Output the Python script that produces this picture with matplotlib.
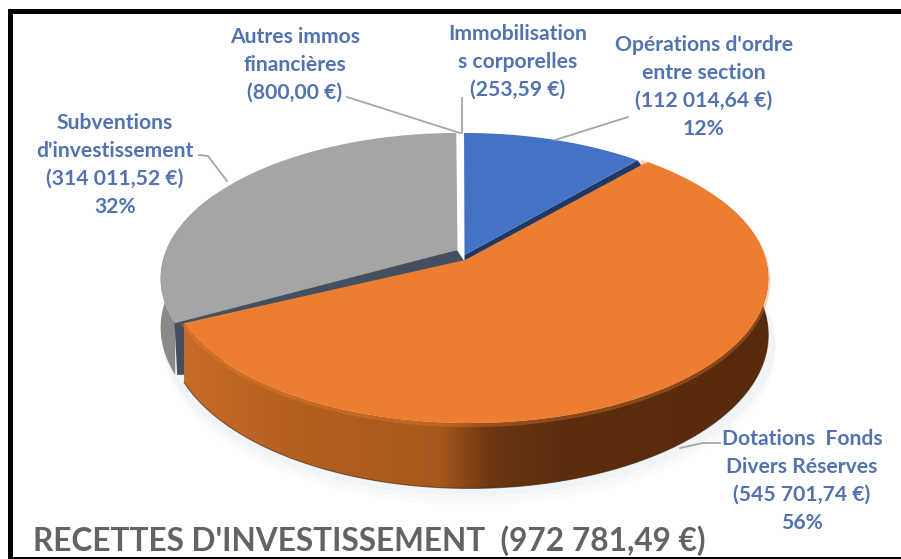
import numpy as np
import matplotlib
matplotlib.use('Agg')
import matplotlib.pyplot as plt
from matplotlib.patches import Polygon

# valeurs du graphique
noms = ['Opérations', 'Dotations', 'Subventions', 'Autres immos', 'Immobilisations']
valeurs = [112014.64, 545701.74, 314011.52, 800.00, 253.59]

titre = "RECETTES D'INVESTISSEMENT  (972 781,49 €)"
etiquettes = ["Opérations d'ordre\nentre section\n(112 014,64 €)\n12%",
              "Dotations  Fonds\nDivers Réserves\n(545 701,74 €)\n56%",
              "Subventions\nd'investissement\n(314 011,52 €)\n32%",
              "Autres immos\nfinancières\n(800,00 €)",
              "Immobilisation\ns corporelles\n(253,59 €)"]
etiq_pos = [(704, 87), (802, 481), (115, 165), (295, 65), (518, 62)]

# traits de rappel
rappels = [[(628, 117), (555, 140)],
           [(720, 443), (703, 443), (680, 448)],
           [(199, 155), (208, 156), (227, 181)],
           [(347, 97), (460, 133)],
           [(461.5, 98), (461.5, 133)]]

# perspective du camembert
CX, CY = 461, 255
B, A, P, EP = 293, 141.4, 0.1586, 55


def proj(x, y, z=0):
    w = 1 + P * y
    return CX + B * x / w, CY - A * y / w + z / w


fig = plt.figure(figsize=(9.01, 5.59), dpi=100)
ax = fig.add_axes([0, 0, 1, 1])

# angles depuis le haut, sens horaire
fin = np.cumsum(valeurs) / np.sum(valeurs) * 2 * np.pi
deb = np.concatenate([[0], fin[:-1]])


def arc(i, ox=0.0, oy=0.0, z=0, n=200, sx=1.0):
    t = np.linspace(deb[i], fin[i], n)
    return proj(np.sin(t) * sx + ox, np.cos(t) + oy, z)


# ombre
for k, al in [(14, 0.04), (10, 0.05), (6, 0.06)]:
    t = np.linspace(1.3, 4.6, 200)
    ox_s, oy_s = proj(np.sin(t) * 1.03 + 0.03, np.cos(t), EP + k)
    ax.fill(ox_s, oy_s, color='#9fb4c8', alpha=al, lw=0, zorder=1)

# subventions : cote, paroi, dessus
gx, gy = arc(2, ox=-0.012)
gx2, gy2 = arc(2, ox=-0.012, z=48)
m = gx < 215
ax.fill(np.r_[gx[m], gx2[m][::-1]], np.r_[gy[m], gy2[m][::-1]], color='#8a8a8a', lw=0, zorder=2)
ax.fill([457, gx[0] - 1, gx2[0] + 2, gx2[0] + 10, 470], [250, gy[0] - 6, gy2[0], gy2[0], 270],
        color='#44505f', lw=0, zorder=3)
ax.fill(np.r_[457.5, gx], np.r_[250, gy], color='#a5a5a5', lw=0, zorder=4)

# operations : paroi et dessus
bx, by = arc(0, ox=0.012)
ap_x, ap_y = proj(0.012, 0)
ax.fill([ap_x, bx[-1], bx[-1] + 6, ap_x], [ap_y, by[-1], by[-1] + 8, ap_y + 8], color='#1f3864', lw=0, zorder=3)
ax.fill(np.r_[ap_x, bx], np.r_[ap_y, by], color='#4472c4', lw=0, zorder=4)

# dotations : cote avec degrade, dessus
ox_d, sx_d = 0.025, 1.01
dx, dy = arc(1, ox=ox_d, n=400, sx=sx_d)
dx2, dy2 = arc(1, ox=ox_d, z=EP, n=400, sx=sx_d)
xp = [180, 300, 440, 490, 560, 780]
rouge = [0xc8, 0xb4, 0xa6, 0x6b, 0x5c, 0x58]
vert = [0x6c, 0x60, 0x58, 0x36, 0x2e, 0x2a]
bleu = [0x28, 0x20, 0x1c, 0x12, 0x0e, 0x0c]
xs = np.linspace(170, 790, 620)
grad = np.dstack([np.interp(xs, xp, rouge), np.interp(xs, xp, vert), np.interp(xs, xp, bleu)]) / 255
im = ax.imshow(grad, extent=[170, 790, 500, 200], aspect='auto', interpolation='bilinear', zorder=5)
im.set_clip_path(Polygon(np.c_[np.r_[dx, dx2[::-1]], np.r_[dy, dy2[::-1]]], transform=ax.transData))
ax.plot(dx2, dy2, color='#3d2008', lw=0.8, alpha=0.6, zorder=5)
ax.plot(dx, dy + 2, color='#ed7d31', lw=3, alpha=0.35, zorder=6)
# le bord haut descend un peu pour laisser voir la paroi bleue
ax.fill(np.r_[465, dx[0], dx[3:]], np.r_[260, dy[0] + 4, dy[3:]], color='#ed7d31', lw=0, zorder=7)

ax.set_xlim(0, 901)
ax.set_ylim(559, 0)
ax.axis('off')

# rappels
for r in rappels:
    ax.plot([p[0] for p in r], [p[1] for p in r], color='#a6a6a6', lw=1.3, zorder=8)

# etiquettes
for t, (x, y) in zip(etiquettes, etiq_pos):
    ax.text(x, y, t, ha='center', va='center', family='Lato', weight='bold',
            fontsize=15.2, color='#5273b0', linespacing=1.49, zorder=9)

ax.text(33, 541, titre, ha='left', va='center', family='Lato', weight='bold',
        fontsize=22.8, color='#636363', zorder=9)

# cadre
ax.fill([8, 13, 13, 8], [9, 9, 559, 559], color='black', lw=0, zorder=10)
ax.fill([8, 901, 901, 8], [9, 9, 14, 14], color='black', lw=0, zorder=10)
ax.fill([8, 901, 901, 8], [557, 557, 559, 559], color='black', lw=0, zorder=10)

fig.savefig('out.png', dpi=100)
